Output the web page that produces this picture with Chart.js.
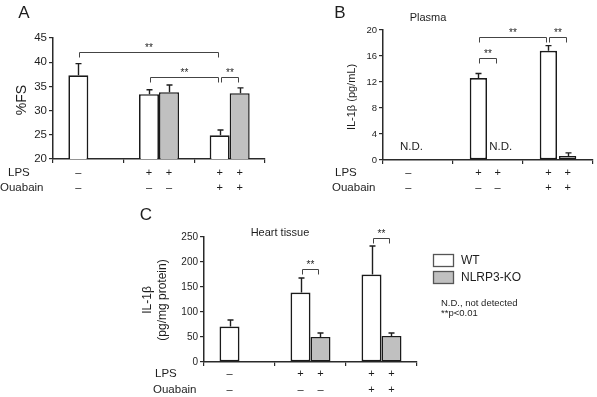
<!DOCTYPE html>
<html>
<head>
<meta charset="utf-8">
<script src="https://cdn.jsdelivr.net/npm/chart.js@4.4.1/dist/chart.umd.min.js"></script>
<style>
  html, body { margin: 0; padding: 0; background: #fff; }
  #wrap { position: relative; width: 597px; height: 397px; overflow: hidden; }
  #wrap canvas { position: absolute; left: 0; top: 0; }
</style>
</head>
<body>
<div id="wrap">
  <canvas id="chartA" width="597" height="397"></canvas>
  <canvas id="chartB" width="597" height="397"></canvas>
  <canvas id="chartC" width="597" height="397"></canvas>
</div>
<script>
const groups = ['Control', 'LPS', 'LPS + Ouabain'];
const seriesNames = ['WT', 'NLRP3-KO'];
const lpsSigns = [['–', ''], ['+', '+'], ['+', '+']];
const ouabainSigns = [['–', ''], ['–', '–'], ['+', '+']];

// A: %FS
const fsWT = [37.3, 33.4, 24.9];
const fsWTErr = [2.4, 0.9, 1.1];
const fsKO = [null, 33.8, 33.6];
const fsKOErr = [null, 1.5, 1.1];
const fsTicks = [20, 25, 30, 35, 40, 45];
const fsBrackets = [[0, 0, 2, 0, 42.05], [1, 0, 2, 0, 36.9], [2, 0, 2, 1, 36.9]];

// B: plasma IL-1b
const plasmaWT = [null, 12.6, 16.8];
const plasmaWTErr = [null, 0.7, 0.8];
const plasmaKO = [null, null, 0.6];
const plasmaKOErr = [null, null, 0.5];
const plasmaTicks = [0, 4, 8, 12, 16, 20];
const plasmaBrackets = [[1, 0, 1, 1, 15.65], [1, 0, 2, 0, 18.97], [2, 0, 2, 1, 18.97]];
const plasmaND = [[0, 0], [1, 1]];

// C: heart tissue IL-1b
const heartWT = [71, 139, 175];
const heartWTErr = [13, 29, 57];
const heartKO = [null, 50, 52];
const heartKOErr = [null, 8, 6];
const heartTicks = [0, 50, 100, 150, 200, 250];
const heartBrackets = [[1, 0, 1, 1, 186.8], [2, 0, 2, 1, 248]];

const FONT = '"Liberation Sans", Arial, sans-serif';
const INK = '#1e1e1e';
const LINE = '#2a2a2a';
const GRAY = '#c0c0c0';
const W = 597, H = 397;
const Y_AXIS_W = 40, X_AXIS_H = 6;

function text(ctx, str, x, y, size, align, baseline) {
  ctx.font = size + 'px ' + FONT;
  ctx.fillStyle = INK;
  ctx.textAlign = align || 'left';
  ctx.textBaseline = baseline || 'middle';
  ctx.fillText(str, x, y);
}

function barX(chart, g, s) {
  return chart.getDatasetMeta(s).data[g].x;
}

function makePanel(id, p) {
  const decor = {
    id: 'decor_' + id,
    afterDatasetsDraw(chart) {
      const ctx = chart.ctx;
      const y = chart.scales.y;
      ctx.save();
      ctx.strokeStyle = INK;
      ctx.lineWidth = 1.4;
      [p.errWT, p.errKO].forEach((errs, s) => {
        const vals = s === 0 ? p.wt : p.ko;
        errs.forEach((e, g) => {
          if (e == null || vals[g] == null) return;
          const x = Math.round(barX(chart, g, s)) + 0.5;
          const y0 = y.getPixelForValue(vals[g]);
          const y1 = y.getPixelForValue(vals[g] + e);
          ctx.beginPath();
          ctx.moveTo(x, y0);
          ctx.lineTo(x, y1);
          ctx.moveTo(x - 3, y1);
          ctx.lineTo(x + 3, y1);
          ctx.stroke();
        });
      });
      ctx.restore();
    },
    afterDraw(chart) {
      const ctx = chart.ctx;
      const y = chart.scales.y;
      ctx.save();
      // brackets
      ctx.strokeStyle = '#444';
      ctx.lineWidth = 1;
      p.brackets.forEach(b => {
        const x1 = Math.round(barX(chart, b[0], b[1])) + 1.5;
        const x2 = Math.round(barX(chart, b[2], b[3])) - 1.5;
        const yy = Math.round(y.getPixelForValue(b[4])) + 0.5;
        ctx.beginPath();
        ctx.moveTo(x1, yy + 5);
        ctx.lineTo(x1, yy);
        ctx.lineTo(x2, yy);
        ctx.lineTo(x2, yy + 5);
        ctx.stroke();
        text(ctx, '**', (x1 + x2) / 2, yy - 1.5, 10, 'center', 'alphabetic');
      });
      // treatment rows
      text(ctx, 'LPS', p.lpsX, p.rowY[0], 11.5, 'left');
      text(ctx, 'Ouabain', p.ouaX, p.rowY[1], 11.5, 'left');
      groups.forEach((g, gi) => {
        [0, 1].forEach(s => {
          const x = barX(chart, gi, s);
          if (lpsSigns[gi][s]) text(ctx, lpsSigns[gi][s], x, p.rowY[0], 11, 'center');
          if (ouabainSigns[gi][s]) text(ctx, ouabainSigns[gi][s], x, p.rowY[1], 11, 'center');
        });
      });
      // N.D.
      (p.nd || []).forEach(n => {
        text(ctx, 'N.D.', barX(chart, n[0], n[1]) + 3, p.ndY, 11.5, 'center');
      });
      // letter and titles
      text(ctx, p.letter[0], p.letter[1], p.letter[2], 17, 'center');
      if (p.title) text(ctx, p.title[0], p.title[1], p.title[2], 11, 'center');
      p.yTitle.forEach(t => {
        ctx.save();
        ctx.translate(t[1], p.yTitleY);
        ctx.rotate(-Math.PI / 2);
        text(ctx, t[0], 0, 0, t[2], 'center');
        ctx.restore();
      });
      if (p.legend) {
        const ds = chart.data.datasets;
        ds.forEach((d, i) => {
          const top = [254, 271][i];
          ctx.fillStyle = d.backgroundColor;
          ctx.fillRect(433.5, top + 0.5, 20, 12);
          ctx.strokeStyle = '#555';
          ctx.lineWidth = 1.3;
          ctx.strokeRect(433.5, top + 0.5, 20, 12);
          text(ctx, d.label, 461, top + 6.5, 12, 'left');
        });
        text(ctx, 'N.D., not detected', 441, 303.5, 9.5, 'left');
        text(ctx, '**p<0.01', 441, 313.5, 9.5, 'left');
      }
      ctx.restore();
    }
  };

  const a = p.area;
  return new Chart(document.getElementById(id), {
    type: 'bar',
    data: {
      labels: groups,
      datasets: [
        { label: seriesNames[0], data: p.wt, backgroundColor: '#fff', borderColor: '#1a1a1a', borderWidth: 1.7, borderSkipped: false },
        { label: seriesNames[1], data: p.ko, backgroundColor: GRAY, borderColor: '#1a1a1a', borderWidth: 1.5, borderSkipped: false }
      ]
    },
    options: {
      responsive: false,
      animation: false,
      events: [],
      layout: { padding: { left: a.left - Y_AXIS_W, right: W - a.right, top: a.top, bottom: H - a.bottom - X_AXIS_H } },
      datasets: { bar: { categoryPercentage: p.catPct, barPercentage: p.barPct } },
      plugins: { legend: { display: false }, tooltip: { enabled: false } },
      scales: {
        x: {
          offset: true,
          grid: { offset: true, drawOnChartArea: false, drawTicks: true, tickLength: 4, color: LINE, lineWidth: 1.2 },
          border: { display: true, color: LINE, width: 1.5 },
          ticks: { display: false },
          afterFit: s => { s.height = X_AXIS_H; }
        },
        y: {
          min: p.ticks[0],
          max: p.ticks[p.ticks.length - 1],
          ticks: { stepSize: p.ticks[1] - p.ticks[0], color: INK, padding: 2, font: { family: FONT, size: p.tickSize } },
          grid: { drawOnChartArea: false, drawTicks: true, tickLength: 4, color: LINE, lineWidth: 1.2 },
          border: { display: true, color: LINE, width: 1.5 },
          afterFit: s => { s.width = Y_AXIS_W; }
        }
      }
    },
    plugins: [decor]
  });
}

makePanel('chartA', {
  area: { left: 53, right: 265, top: 38, bottom: 159 },
  wt: fsWT, ko: fsKO, errWT: fsWTErr, errKO: fsKOErr, ticks: fsTicks, tickSize: 11.5,
  catPct: 0.566, barPct: 1, brackets: fsBrackets,
  lpsX: 8, ouaX: 0, rowY: [173, 188],
  letter: ['A', 24, 13], yTitle: [['%FS', 22, 14]], yTitleY: 100
});

makePanel('chartB', {
  area: { left: 383, right: 593, top: 30, bottom: 160 },
  wt: plasmaWT, ko: plasmaKO, errWT: plasmaWTErr, errKO: plasmaKOErr, ticks: plasmaTicks, tickSize: 9.5,
  catPct: 0.55, barPct: 0.9, brackets: plasmaBrackets, nd: plasmaND, ndY: 147,
  lpsX: 335, ouaX: 332, rowY: [173, 188],
  letter: ['B', 340, 13], title: ['Plasma', 428, 18], yTitle: [['IL-1β (pg/mL)', 352, 11]], yTitleY: 97
});

makePanel('chartC', {
  area: { left: 204, right: 417, top: 237, bottom: 362 },
  wt: heartWT, ko: heartKO, errWT: heartWTErr, errKO: heartKOErr, ticks: heartTicks, tickSize: 10,
  catPct: 0.563, barPct: 1, brackets: heartBrackets,
  lpsX: 155, ouaX: 153, rowY: [373.5, 390],
  letter: ['C', 146, 215], title: ['Heart tissue', 280, 233], yTitle: [['IL-1β', 148, 12], ['(pg/mg protein)', 163, 12]], yTitleY: 300,
  legend: true
});
</script>
</body>
</html>
